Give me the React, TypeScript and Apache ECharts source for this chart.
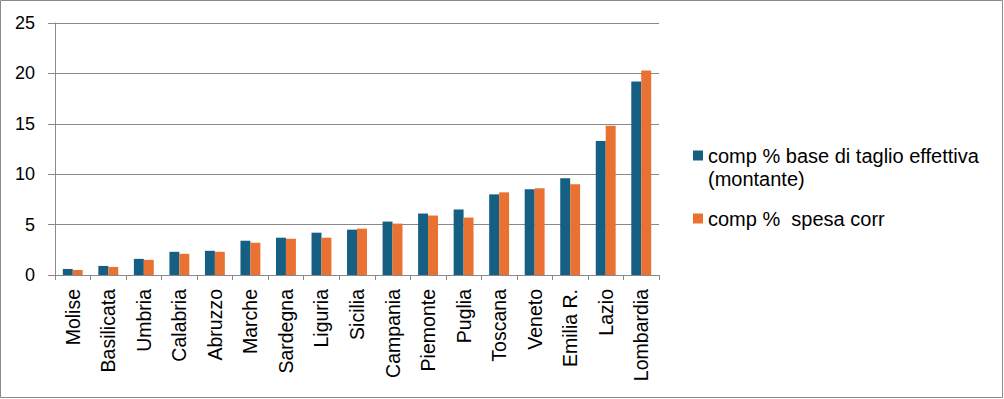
import React, { useEffect, useRef } from "react";
import * as echarts from "echarts";

const categories = [
  "Molise", "Basilicata", "Umbria", "Calabria", "Abruzzo", "Marche", "Sardegna",
  "Liguria", "Sicilia", "Campania", "Piemonte", "Puglia", "Toscana", "Veneto",
  "Emilia R.", "Lazio", "Lombardia",
];
const seriesNames = ["comp % base di taglio effettiva (montante)", "comp %  spesa corr"];
const baseTaglio = [0.6, 0.9, 1.6, 2.3, 2.4, 3.4, 3.7, 4.2, 4.5, 5.3, 6.1, 6.5, 8.0, 8.5, 9.6, 13.3, 19.2];
const spesaCorr = [0.5, 0.8, 1.5, 2.1, 2.3, 3.2, 3.6, 3.7, 4.6, 5.1, 5.9, 5.7, 8.2, 8.6, 9.0, 14.8, 20.3];
const yTicks = { min: 0, max: 25, interval: 5 };

export default function App() {
  const ref = useRef<HTMLDivElement>(null);
  useEffect(() => {
    if (!ref.current) return;
    const chart = echarts.init(ref.current, null, { renderer: "svg" });
    const gray = "#898989";
    chart.setOption({
      animation: false,
      backgroundColor: "#ffffff",
      grid: { left: 55, right: 345, top: 23, bottom: 124, containLabel: false },
      graphic: [
        {
          type: "rect",
          shape: { x: 0.5, y: 0.5, width: 1002, height: 397 },
          style: { fill: "none", stroke: gray, lineWidth: 1 },
          silent: true,
        },
      ],
      legend: {
        orient: "vertical",
        left: 688,
        top: 116,
        itemWidth: 10,
        itemHeight: 10,
        itemGap: 17,
        icon: "rect",
        textStyle: { fontFamily: "Liberation Sans", fontSize: 20, color: "#000", lineHeight: 23 },
        data: [seriesNames[0], seriesNames[1]],
        formatter: (name: string) =>
          name === seriesNames[0] ? "\ncomp % base di taglio effettiva\n(montante)" : name,
      },
      xAxis: {
        type: "category",
        data: categories,
        axisLine: { lineStyle: { color: gray } },
        axisTick: { show: true, length: 5, lineStyle: { color: gray } },
        axisLabel: {
          rotate: 90,
          interval: 0,
          margin: 14,
          fontFamily: "Liberation Sans",
          fontSize: 19.5,
          color: "#000",
        },
      },
      yAxis: {
        type: "value",
        min: yTicks.min,
        max: yTicks.max,
        interval: yTicks.interval,
        axisLine: { show: true, lineStyle: { color: gray } },
        axisTick: { show: true, length: 7, lineStyle: { color: gray } },
        splitLine: { lineStyle: { color: gray } },
        axisLabel: {
          margin: 20,
          fontFamily: "Liberation Sans",
          fontSize: 18,
          color: "#000",
        },
      },
      series: [
        {
          name: seriesNames[0],
          type: "bar",
          data: baseTaglio,
          itemStyle: { color: "#156082" },
          barGap: "0%",
          barCategoryGap: "44%",
        },
        {
          name: seriesNames[1],
          type: "bar",
          data: spesaCorr,
          itemStyle: { color: "#E97132" },
          barGap: "0%",
          barCategoryGap: "44%",
        },
      ],
    });
    return () => chart.dispose();
  }, []);
  return (
    <div
      ref={ref}
      style={{ position: "absolute", left: 0, top: 0, width: 1004, height: 399 }}
    />
  );
}
